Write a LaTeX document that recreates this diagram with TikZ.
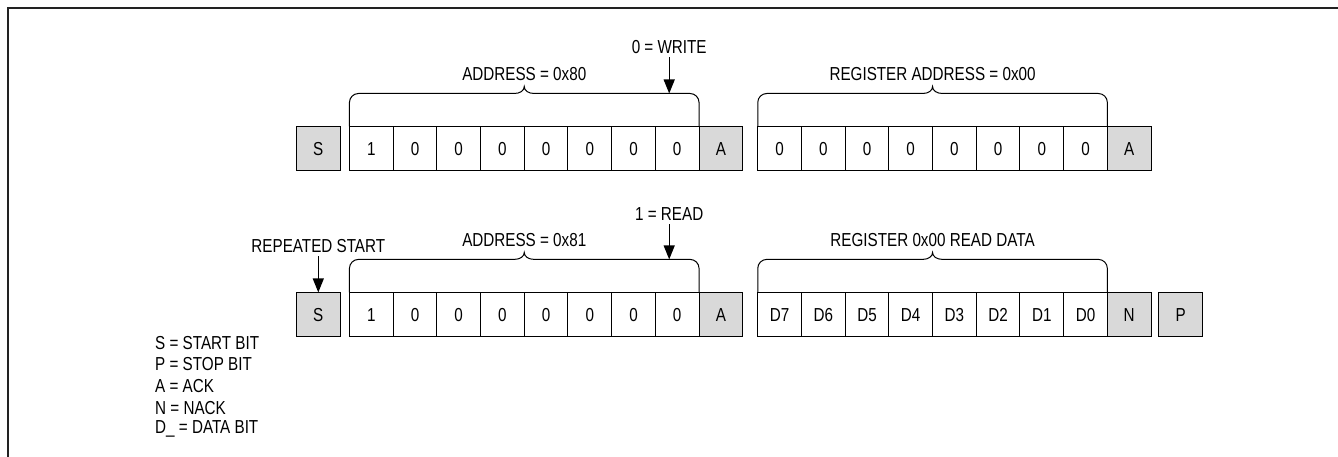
\documentclass[tikz,border=0pt]{standalone}
\usepackage{fontspec}
\setmainfont{Liberation Sans}[FakeStretch=0.81]
\usetikzlibrary{positioning,calc,arrows.meta}
\definecolor{bitgray}{HTML}{D9D9D9}
\definecolor{framegray}{HTML}{222222}

\tikzset{
    bitbox/.style={draw, line width=1pt, minimum width=43.7pt,
        minimum height=43.6pt, inner sep=0pt, outer sep=0pt,
        text height=13.6pt, text depth=0pt},
    ctrlbox/.style={bitbox, fill=bitgray},
    bracestyle/.style={line width=1pt},
    sigarrow/.style={-{Triangle[width=11pt,length=14pt]}, line width=1.3pt},
    legendtext/.style={anchor=west, inner sep=0pt}
}

% brace over a group of bits: first bit, last bit, name of the tip
\newcommand{\bitbrace}[3]{%
    \coordinate (#3) at ($(#1.north west)!0.5!(#2.north east)+(0,40)$);
    \draw[bracestyle] (#1.north west) -- ++(0,24)
        arc[start angle=180, end angle=90, radius=9pt]
        -- ($(#3)+(-10,-7)$)
        .. controls ($(#3)+(-4,-7)$) and ($(#3)+(0,-4)$) .. (#3)
        .. controls ($(#3)+(0,-4)$) and ($(#3)+(4,-7)$) .. ($(#3)+(10,-7)$)
        -- ($(#2.north east)+(-9,33)$)
        arc[start angle=90, end angle=0, radius=9pt]
        -- (#2.north east);
}

\begin{document}
\begin{tikzpicture}[x=1pt, y=1pt, font=\fontsize{18.8}{21.65}\selectfont]

\useasboundingbox (0,0) rectangle (1338,-457);

% ---------------- FRAME ----------------

\draw[line width=1.8pt, framegray] (8.3,-457) -- (8.3,-8.3) -- (1338,-8.3);


% ---------------- WRITE REGISTER ADDRESS ----------------

\node[ctrlbox] (s1) at (318.3,-148.3) {S};
\node[bitbox, right=9.3pt of s1] (a1) {1};
\foreach \v [count=\i from 2] in {0,0,0,0,0,0,0} {
    \pgfmathtruncatemacro{\p}{\i-1}
    \node[bitbox, right=0pt of a\p] (a\i) {\v};
}
\node[ctrlbox, right=0pt of a8] (ack1) {A};

\node[bitbox, right=15pt of ack1] (r1) {0};
\foreach \v [count=\i from 2] in {0,0,0,0,0,0,0} {
    \pgfmathtruncatemacro{\p}{\i-1}
    \node[bitbox, right=0pt of r\p] (r\i) {\v};
}
\node[ctrlbox, right=0pt of r8] (ack2) {A};

\bitbrace{a1}{a8}{tipw}
\node[above=2pt of tipw] (addrw) {ADDRESS = 0x80};

\bitbrace{r1}{r8}{tipr}
\node[above=2pt of tipr] (regaddr) {REGISTER ADDRESS = 0x00};

\coordinate (wrend) at ($(a8.north)+(-8,33)$);
\node[above=36pt of wrend] (wrbit) {0 = WRITE};
\draw[sigarrow] (wrbit) -- (wrend);


% ---------------- READ DATA ----------------

\node[ctrlbox] (s2) at (318.3,-314.2) {S};
\node[bitbox, right=9.3pt of s2] (b1) {1};
\foreach \v [count=\i from 2] in {0,0,0,0,0,0,0} {
    \pgfmathtruncatemacro{\p}{\i-1}
    \node[bitbox, right=0pt of b\p] (b\i) {\v};
}
\node[ctrlbox, right=0pt of b8] (ack3) {A};

\node[bitbox, right=15pt of ack3] (d1) {D7};
\foreach \v [count=\i from 2] in {D6,D5,D4,D3,D2,D1,D0} {
    \pgfmathtruncatemacro{\p}{\i-1}
    \node[bitbox, right=0pt of d\p] (d\i) {\v};
}
\node[ctrlbox, right=0pt of d8] (nack) {N};
\node[ctrlbox, right=7.7pt of nack] (stop) {P};

\bitbrace{b1}{b8}{tipa}
\node[above=2pt of tipa] (addrr) {ADDRESS = 0x81};

\bitbrace{d1}{d8}{tipd}
\node[above=2pt of tipd] (rddata) {REGISTER 0x00 READ DATA};

\coordinate (rdend) at ($(b8.north)+(-8,33)$);
\node[above=35pt of rdend] (rdbit) {1 = READ};
\draw[sigarrow] (rdbit) -- (rdend);

\node[above=36pt of s2] (repstart) {REPEATED START};
\draw[sigarrow] (repstart) -- (s2);


% ---------------- LEGEND ----------------

\foreach \t [count=\i] in {S = START BIT, P = STOP BIT, A = ACK, N = NACK, D\_ = DATA BIT} {
    \node[legendtext] (leg\i) at (155,{-342.7-(\i-1)*21.65}) {\t};
}

\end{tikzpicture}
\end{document}
